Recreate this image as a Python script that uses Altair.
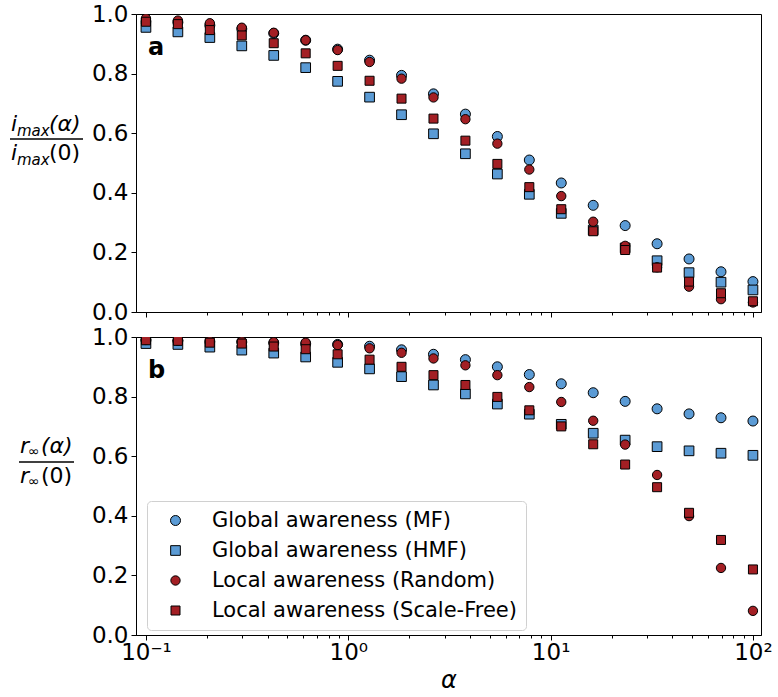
import altair as alt
import pandas as pd

alpha = [0.1, 0.14384, 0.20691, 0.29764, 0.42813, 0.61585, 0.88587, 1.27427,
         1.83298, 2.63665, 3.79269, 5.45559, 7.84760, 11.2884, 16.2378,
         23.3572, 33.5982, 48.3293, 69.5193, 100.0]

series = ["Global awareness (MF)", "Global awareness (HMF)",
          "Local awareness (Random)", "Local awareness (Scale-Free)"]

# panel a: i_max(alpha)/i_max(0)
imax_mf = [0.975, 0.972, 0.962, 0.950, 0.935, 0.912, 0.882, 0.845, 0.794, 0.732,
           0.664, 0.589, 0.510, 0.433, 0.358, 0.290, 0.229, 0.178, 0.135, 0.102]
imax_hmf = [0.955, 0.940, 0.921, 0.893, 0.861, 0.820, 0.774, 0.721, 0.662, 0.598,
            0.531, 0.463, 0.395, 0.331, 0.275, 0.215, 0.172, 0.132, 0.100, 0.074]
imax_rand = [0.985, 0.978, 0.969, 0.954, 0.937, 0.912, 0.879, 0.839, 0.783, 0.720,
             0.647, 0.565, 0.478, 0.389, 0.303, 0.222, 0.150, 0.085, 0.043, 0.032]
imax_sf = [0.974, 0.966, 0.946, 0.928, 0.902, 0.868, 0.826, 0.776, 0.716, 0.649,
           0.575, 0.497, 0.419, 0.345, 0.271, 0.208, 0.149, 0.102, 0.063, 0.036]

# panel b: r_inf(alpha)/r_inf(0)
rinf_mf = [0.990, 0.988, 0.985, 0.983, 0.980, 0.977, 0.975, 0.969, 0.957, 0.942,
           0.924, 0.900, 0.874, 0.843, 0.813, 0.784, 0.759, 0.742, 0.729, 0.718]
rinf_hmf = [0.978, 0.975, 0.966, 0.956, 0.946, 0.933, 0.915, 0.893, 0.867, 0.839,
            0.809, 0.775, 0.741, 0.707, 0.677, 0.654, 0.632, 0.618, 0.610, 0.603]
rinf_rand = [0.990, 0.988, 0.986, 0.985, 0.983, 0.981, 0.973, 0.962, 0.947, 0.928,
             0.905, 0.872, 0.832, 0.782, 0.719, 0.639, 0.537, 0.399, 0.225, 0.081]
rinf_sf = [0.989, 0.987, 0.981, 0.978, 0.968, 0.959, 0.942, 0.924, 0.900, 0.872,
           0.839, 0.799, 0.754, 0.700, 0.640, 0.572, 0.496, 0.410, 0.319, 0.220]

x_tick_values = [0.1, 0.2, 0.3, 0.4, 0.5, 0.6, 0.7, 0.8, 0.9,
                 1, 2, 3, 4, 5, 6, 7, 8, 9,
                 10, 20, 30, 40, 50, 60, 70, 80, 90, 100]
y_tick_values = [0.0, 0.2, 0.4, 0.6, 0.8, 1.0]


def long_table(cols):
    rows = []
    for s, vals in zip(series, cols):
        for a, v in zip(alpha, vals):
            rows.append({"alpha": a, "value": v, "series": s})
    return pd.DataFrame(rows)


df_a = long_table([imax_mf, imax_hmf, imax_rand, imax_sf])
df_b = long_table([rinf_mf, rinf_hmf, rinf_rand, rinf_sf])

BLUE = "#5b9bd5"
RED = "#a31f24"
FONT = "DejaVu Sans"

color_scale = alt.Scale(domain=series, range=[BLUE, BLUE, RED, RED])
shape_scale = alt.Scale(domain=series, range=["circle", "square", "circle", "square"])
size_scale = alt.Scale(domain=series, range=[100, 81, 100, 81])
x_scale = alt.Scale(type="log", domain=[0.0893, 109.6], nice=False)
y_scale = alt.Scale(domain=[0, 1], nice=False, zero=False)

tick_size = {"condition": {"test": "indexof([0.1, 1, 10, 100], datum.value) >= 0",
                           "value": 5}, "value": 3}
label_expr = ("datum.value == 0.1 ? '10⁻¹' : datum.value == 1 ? '10⁰' : "
              "datum.value == 10 ? '10¹' : datum.value == 100 ? '10²' : ''")


def points(df, show_x_labels, legend):
    x_axis = alt.Axis(values=x_tick_values, tickSize=tick_size, labelExpr=label_expr,
                      labels=show_x_labels, labelFlush=False, labelOverlap=False,
                      labelBound=False, labelPadding=1,
                      title="α" if show_x_labels else None,
                      titleFontStyle="italic", titleFontWeight="normal",
                      titleFontSize=24, titlePadding=4)
    return alt.Chart(df).mark_point(filled=True, opacity=1, stroke="black",
                                    strokeWidth=1, clip=True).encode(
        x=alt.X("alpha:Q", scale=x_scale, axis=x_axis),
        y=alt.Y("value:Q", scale=y_scale,
                axis=alt.Axis(values=y_tick_values, format=".1f", title=None,
                              tickSize=5, labelPadding=3)),
        color=alt.Color("series:N", scale=color_scale, legend=legend),
        shape=alt.Shape("series:N", scale=shape_scale, legend=legend),
        size=alt.Size("series:N", scale=size_scale, legend=None),
    )


def txt(s, x, y, size, style="normal", weight="normal", align="left"):
    return alt.Chart(pd.DataFrame({"t": [s]})).mark_text(
        font=FONT, fontSize=size, fontStyle=style, fontWeight=weight,
        align=align, baseline="alphabetic", color="black").encode(
        x=alt.value(x), y=alt.value(y), text="t:N")


def bar(x1, x2, y):
    return alt.Chart(pd.DataFrame({"t": [0]})).mark_rule(
        color="black", strokeWidth=1.3).encode(
        x=alt.value(x1), x2=alt.value(x2), y=alt.value(y))


legend_b = alt.Legend(orient="none", legendX=11, legendY=164, title=None,
                      labelFont=FONT, labelFontSize=21, labelColor="black",
                      labelLimit=0,
                      symbolSize=81, symbolStrokeColor="black", symbolStrokeWidth=1,
                      symbolOffset=9, labelOffset=26, rowPadding=8, padding=9,
                      fillColor="white", strokeColor="#d0d0d0", cornerRadius=4)

panel_a = alt.layer(
    points(df_a, False, None),
    txt("a", 12, 41, 24, weight="bold"),
    txt("i", -125, 117, 22, style="italic"),
    txt("max", -119, 122, 15, style="italic"),
    txt("(α)", -87, 117, 22, style="italic"),
    bar(-126, -53, 125),
    txt("i", -125, 146, 22, style="italic"),
    txt("max", -119, 151, 15, style="italic"),
    txt("(0)", -87, 146, 22),
).properties(width=625, height=298)

panel_b = alt.layer(
    points(df_b, True, legend_b),
    txt("b", 12, 41, 24, weight="bold"),
    txt("r", -116, 116, 22, style="italic"),
    txt("∞", -108, 119, 14),
    txt("(α)", -95, 116, 22, style="italic"),
    bar(-117, -62, 125),
    txt("r", -116, 146, 22, style="italic"),
    txt("∞", -108, 149, 14),
    txt("(0)", -95, 146, 22),
).properties(width=625, height=298)

chart = alt.vconcat(panel_a, panel_b, spacing=0).resolve_scale(
    color="independent", shape="independent", size="independent"
).properties(
    padding={"left": 8, "top": 2, "right": 0, "bottom": 0}
).configure_view(stroke="black", strokeWidth=1).configure_axis(
    labelFont=FONT, labelFontSize=23, labelColor="black", titleFont=FONT,
    titleColor="black", domainColor="black", tickColor="black", grid=False,
    domainWidth=1, tickWidth=1
)

chart.save("out.html", embed_options={"renderer": "svg", "actions": False})
